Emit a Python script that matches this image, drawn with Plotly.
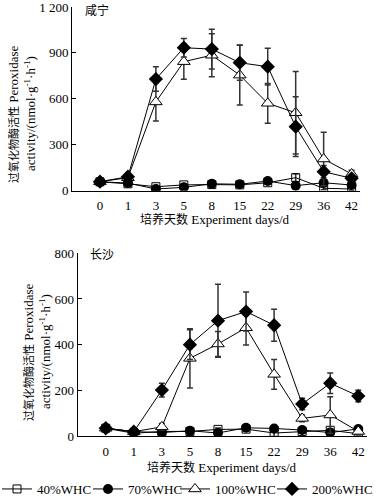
import plotly.graph_objects as go

days = ["0", "1", "3", "5", "8", "15", "22", "29", "36", "42"]
series_names = ["40%WHC", "70%WHC", "100%WHC", "200%WHC"]

# Xianning (top)
xn_40 = [58, 45, 26, 38, 40, 38, 52, 85, 16, 11]
xn_70 = [58, 50, 11, 22, 45, 42, 63, 33, 52, 37]
xn_100 = [59, 85, 580, 843, 885, 755, 571, 509, 207, 109]
xn_200 = [59, 91, 729, 934, 925, 836, 810, 418, 124, 81]
xn_40_err = [10, 8, 6, 8, 8, 8, 10, 25, 10, 8]
xn_70_err = [10, 8, 6, 6, 8, 8, 15, 10, 10, 8]
xn_100_err = [15, 15, 125, 115, 140, 195, 130, 270, 175, 25]
xn_200_err = [15, 15, 80, 60, 130, 115, 120, 195, 40, 20]

# Changsha (bottom)
cs_40 = [34, 12, 20, 20, 29, 30, 13, 20, 25, 10]
cs_70 = [34, 19, 15, 23, 13, 36, 33, 26, 15, 31]
cs_100 = [34, 19, 40, 340, 403, 474, 270, 77, 92, 20]
cs_200 = [34, 19, 201, 400, 505, 545, 485, 140, 231, 175]
cs_40_err = [8, 6, 6, 6, 6, 6, 15, 6, 6, 6]
cs_70_err = [8, 6, 6, 6, 6, 8, 8, 6, 6, 6]
cs_100_err = [8, 6, 15, 130, 55, 75, 65, 15, 80, 8]
cs_200_err = [8, 6, 30, 65, 160, 85, 70, 25, 45, 25]

SERIF = "Liberation Serif, Noto Sans CJK SC, serif"
markers = [
    dict(symbol="square-open", size=8, color="black", line=dict(width=1, color="black")),
    dict(symbol="circle", size=10, color="black"),
    dict(symbol="triangle-up", size=11, color="white", line=dict(width=1, color="black")),
    dict(symbol="diamond", size=11, color="black"),
]
legend_ids = ["legend", "legend2", "legend3", "legend4"]
legend_text_x = [37, 128, 215, 312]  # px where each legend label starts

fig = go.Figure()

top = [(xn_40, xn_40_err), (xn_70, xn_70_err), (xn_100, xn_100_err), (xn_200, xn_200_err)]
bot = [(cs_40, cs_40_err), (cs_70, cs_70_err), (cs_100, cs_100_err), (cs_200, cs_200_err)]

for i, (vals, err) in enumerate(top):
    fig.add_trace(go.Scatter(
        x=days, y=vals, mode="lines+markers", name=series_names[i],
        line=dict(color="black", width=1), marker=markers[i],
        error_y=dict(type="data", array=err, color="#333333", thickness=1.5, width=3),
        xaxis="x", yaxis="y", showlegend=True, legend=legend_ids[i],
        legendgroup=series_names[i]))
for i, (vals, err) in enumerate(bot):
    fig.add_trace(go.Scatter(
        x=days, y=vals, mode="lines+markers", name=series_names[i],
        line=dict(color="black", width=1), marker=markers[i],
        error_y=dict(type="data", array=err, color="#333333", thickness=1.5, width=3),
        xaxis="x2", yaxis="y2", showlegend=False, legendgroup=series_names[i]))

axis_common = dict(showline=True, linecolor="black", linewidth=1, showgrid=False,
                   zeroline=False, ticklabeloverflow="allow",
                   tickfont=dict(family=SERIF, size=13, color="black"))

layout_legends = {}
for i, lid in enumerate(legend_ids):
    layout_legends[lid] = dict(
        orientation="h", x=(legend_text_x[i] - 40) / 377, xanchor="left",
        y=1 - 489 / 499, yanchor="middle", itemwidth=30,
        font=dict(family=SERIF, size=13, color="black"), bgcolor="rgba(0,0,0,0)")

fig.update_layout(
    width=377, height=499,
    margin=dict(l=0, r=0, t=0, b=0, autoexpand=False),
    paper_bgcolor="white", plot_bgcolor="white",
    font=dict(family=SERIF, color="black"),
    xaxis=dict(domain=[72/377, 360/377], anchor="y", type="category",
               range=[-1, 9.3], ticks="", ticklabelstandoff=3, **axis_common),
    yaxis=dict(domain=[1-190.7/499, 1-7/499], anchor="x", range=[0, 1200],
               tickvals=[0, 300, 600, 900, 1200],
               ticktext=["0", "300", "600", "900", "1 200"],
               ticks="inside", ticklen=4, tickcolor="black", **axis_common),
    xaxis2=dict(domain=[77.7/377, 366.7/377], anchor="y2", type="category",
                range=[-1, 9.3], ticks="", ticklabelstandoff=3, **axis_common),
    yaxis2=dict(domain=[1-436/499, 1-253.3/499], anchor="x2", range=[0, 800],
                tickvals=[0, 200, 400, 600, 800],
                ticks="inside", ticklen=4, tickcolor="black", **axis_common),
    **layout_legends,
)

ytitle1 = "<span style='font-size:11px'>过氧化物酶活性</span> Peroxidase"
ytitle2 = "activity/(nmol·g<sup>-1</sup>·h<sup>-1</sup>)"
xtitle = "<span style='font-size:12px'>培养天数</span> Experiment days/d"
ann = [
    dict(text="咸宁", x=83/377, y=1-10/499, xanchor="left", yanchor="middle", size=12),
    dict(text="长沙", x=88/377, y=1-255/499, xanchor="left", yanchor="middle", size=12),
    dict(text=xtitle, x=215/377, y=1-219/499, xanchor="center", yanchor="middle", size=13),
    dict(text=xtitle, x=222/377, y=1-467/499, xanchor="center", yanchor="middle", size=13),
]
annotations = []
for a in ann:
    annotations.append(dict(text=a["text"], x=a["x"], y=a["y"], xref="paper", yref="paper",
                            xanchor=a["xanchor"], yanchor=a["yanchor"], showarrow=False,
                            font=dict(family=SERIF, size=a["size"], color="black")))
for (xc1, xc2, yc) in [(13, 30, 114), (28, 45, 352)]:
    annotations.append(dict(text=ytitle1, x=xc1/377, y=1-yc/499, xref="paper", yref="paper",
                            textangle=-90, showarrow=False, xanchor="center", yanchor="middle",
                            font=dict(family=SERIF, size=13, color="black")))
    annotations.append(dict(text=ytitle2, x=xc2/377, y=1-yc/499, xref="paper", yref="paper",
                            textangle=-90, showarrow=False, xanchor="center", yanchor="middle",
                            font=dict(family=SERIF, size=13, color="black")))
fig.update_layout(annotations=annotations)

fig.write_html("out.html", config={"displayModeBar": False},
               post_script="document.body.style.margin='0';")
